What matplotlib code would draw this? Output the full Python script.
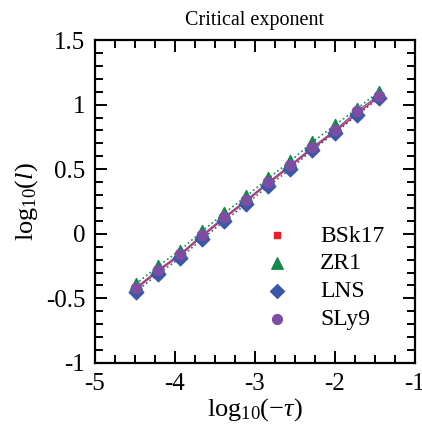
import matplotlib
matplotlib.use("Agg")
import matplotlib.pyplot as plt
from matplotlib.ticker import MultipleLocator

plt.rcParams.update({
    "font.family": "serif",
    "font.serif": ["Liberation Serif", "DejaVu Serif"],
    "mathtext.fontset": "custom",
    "mathtext.rm": "Liberation Serif",
    "mathtext.it": "Liberation Serif:italic",
})

# --- data ---
log_tau = [-4.49, -4.21, -3.94, -3.66, -3.38, -3.11, -2.83, -2.56, -2.28, -2.00, -1.72, -1.45]
bsk17 = [-0.43, -0.29, -0.17, -0.02, 0.12, 0.25, 0.39, 0.52, 0.66, 0.79, 0.93, 1.06]
zr1 = [-0.39, -0.25, -0.13, 0.02, 0.16, 0.29, 0.43, 0.56, 0.71, 0.84, 0.97, 1.10]
lns = [-0.45, -0.31, -0.19, -0.04, 0.10, 0.23, 0.37, 0.50, 0.65, 0.78, 0.92, 1.05]
sly9 = [-0.42, -0.28, -0.16, -0.01, 0.13, 0.26, 0.40, 0.53, 0.67, 0.80, 0.95, 1.07]

RED = "#e8202a"
GREEN = "#12894a"
BLUE = "#3a58a8"
PURPLE = "#7b4ea3"

fig = plt.figure(figsize=(4.22, 4.26), dpi=100)
ax = fig.add_axes([0.225, 0.148, 0.758, 0.758])

ax.plot(log_tau, bsk17, color=RED, lw=1.0, zorder=2)
ax.plot(log_tau, zr1, color=GREEN, lw=1.2, ls=":", zorder=2)
ax.plot(log_tau, lns, color=BLUE, lw=1.2, ls=":", zorder=2)
ax.plot(log_tau, sly9, color=PURPLE, lw=1.0, zorder=2)

ax.scatter(log_tau, bsk17, marker="s", s=28, color=RED, label="BSk17", zorder=3)
ax.scatter(log_tau, zr1, marker="^", s=75, color=GREEN, label="ZR1", zorder=3)
ax.scatter(log_tau, lns, marker="D", s=55, color=BLUE, label="LNS", zorder=3)
ax.scatter(log_tau, sly9, marker="o", s=55, color=PURPLE, label="SLy9", zorder=4)

ax.set_xlim(-5, -1)
ax.set_ylim(-1, 1.5)
ax.xaxis.set_minor_locator(MultipleLocator(0.25))
ax.yaxis.set_minor_locator(MultipleLocator(0.1))
ax.set_yticks([-1, -0.5, 0, 0.5, 1, 1.5])
ax.set_yticklabels(["-1", "-0.5", "0", "0.5", "1", "1.5"])
ax.set_xticks([-5, -4, -3, -2, -1])
ax.set_xticklabels(["-5", "-4", "-3", "-2", "-1"])
ax.tick_params(which="both", direction="in", top=True, right=True, labelsize=18, width=1.4)
ax.tick_params(which="major", length=8.5, pad=7)
ax.tick_params(which="minor", length=5.5)
for s in ax.spines.values():
    s.set_linewidth(1.6)

ax.set_xlabel(r"log$_{10}$($-\tau$)", fontsize=19, labelpad=1)
ax.set_ylabel(r"log$_{10}$($l$)", fontsize=19, labelpad=4)
ax.set_title("Critical exponent", fontsize=14.5, pad=11)

leg = ax.legend(loc="lower right", bbox_to_anchor=(0.956, 0.05), frameon=False, fontsize=17,
                handletextpad=0.8, labelspacing=0.27, markerscale=0.95, borderaxespad=0.3)

fig.savefig("out.png", dpi=100)
